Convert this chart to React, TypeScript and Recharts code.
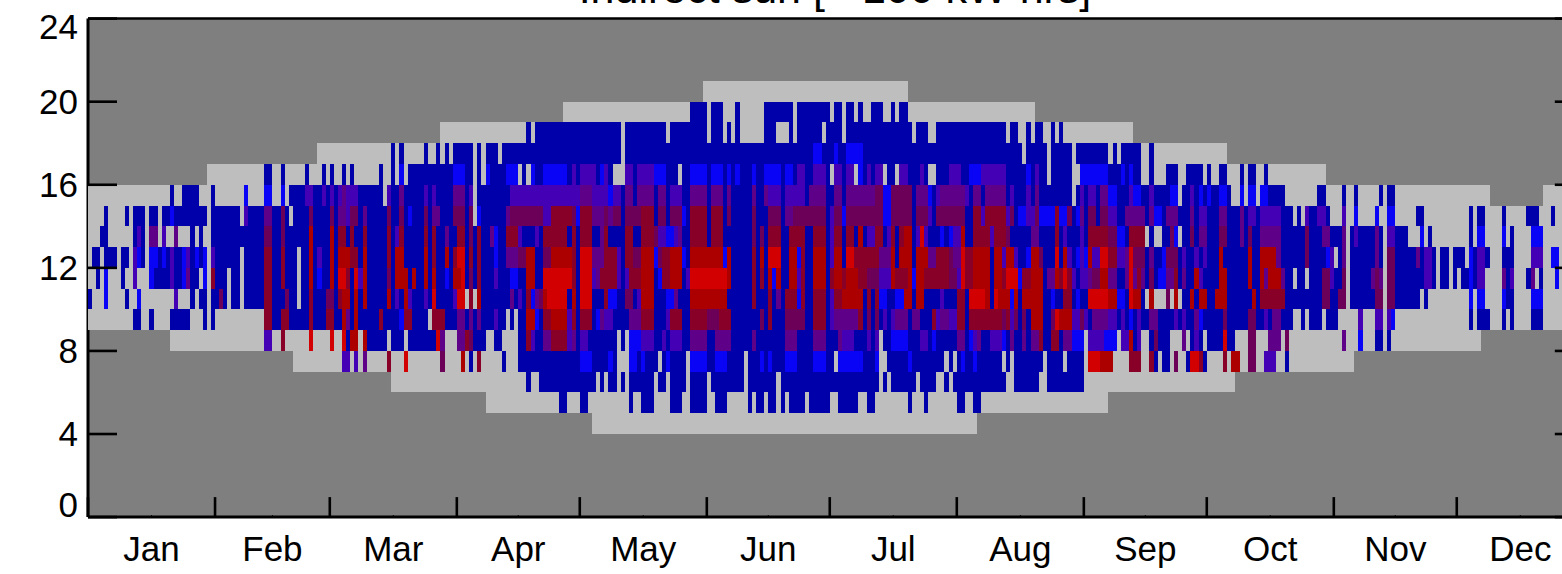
import React from "react";
import { ScatterChart, Scatter, XAxis, YAxis, CartesianGrid } from "recharts";

const TITLE = "Indirect sun [~ 100 kW hrs]";
const MONTHS = ["Jan", "Feb", "Mar", "Apr", "May", "Jun", "Jul", "Aug", "Sep", "Oct", "Nov", "Dec"];
const MONTH_STARTS = [0, 31, 59, 90, 120, 151, 181, 212, 243, 273, 304, 334];
const MONTH_MIDS = [15.5, 45, 74.5, 105, 135.5, 166, 196.5, 227.5, 258, 288.5, 319, 349.5];
const HOUR_TICKS = [0, 4, 8, 12, 16, 20, 24];

// Daylight envelope: [first day, hour]
const sunsetSteps = [[0, 16], [29, 17], [56, 18], [86, 19], [116, 20], [150, 21], [200, 20], [231, 19], [255, 18], [278, 17], [302, 16], [342, 15], [355, 16]];
const sunriseSteps = [[0, 9], [20, 8], [50, 7], [74, 6], [97, 5], [123, 4], [217, 5], [249, 6], [280, 7], [309, 8], [340, 9]];

// Each token: first day + colour code, running to the next token ("." = no colour)
const hour19 = "147B 151. 152B 155. 158B 159. 165B 172. 173B 181. 182B 184. 185B 187. 188B 189. 191B 194. 196B 197. 198B 200.";
const hour18 = "107B 108. 109B 130. 131B 141. 142B 151. 152B 155. 156B 157. 158B 159. 165B 168. 171B 172. 173B 179. 180B 184. 185B 201. 202B 205. 207B 224. 225B 227. 229B 230. 231B 233. 235B 236. 237B 238.";
const hour17 = "74B 75. 76B 77. 82B 83. 85B 86. 87B 88. 89B 94. 95B 96. 97B 100. 101B 130. 131B 177L 179B 182L 183B 185L 189B 228. 229B 234. 235B 240. 241B 249. 250B 251. 252B 257. 259B 260.";
const hour16 = "43B 45. 47B 48. 53B 54. 57B 58. 59B 60. 62B 63. 64B 65. 71B 72. 74B 75. 76L 77. 78B 89L 92B 94. 95B 96. 97L 98B 102L 105. 106B 107. 108L 109B 111L 117B 118P 119B 120P 124B 125L 126P 127B 128. 131P 133B 134P 138L 141B 144. 145B 147L 151B 152L 155B 156L 157B 158L 159B 162L 163B 165L 169B 170L 172B 173P 175B 177P 180B 181. 182P 184B 185P 187. 188L 189B 190P 191B 192P 194. 195B 197. 198P 200B 203P 204B 205. 207B 210P 213B 215L 218P 224B 229L 230B 231P 232B 234. 235B 240. 242L 249B 252L 253B 254L 255B 257. 259B 260. 263B 266. 268B 272. 273B 274. 276B 278. 281B 282. 283B 285. 287B 288.";
const hour15 = "20B 21. 23B 27. 30B 31. 38L 39. 43L 45. 47L 48. 49B 53P 55B 57P 58B 59P 60B 61P 62V 63P 66B 72. 73P 74B 76V 77B 82P 83B 84P 85B 89V 92B 93P 94. 95B 103P 120V 123P 127L 128P 130B 131V 133B 134V 138B 139V 141B 142P 145B 147V 151B 152V 155B 156V 157B 162V 163B 165V 166P 169B 170P 175B 176V 180B 182V 184B 185V 192W 194L 196W 201B 202V 205L 206B 207P 208V 214P 215B 216V 218B 219V 224B 225P 226B 229P 230B 231V 232B 240. 241B 242P 243B 244P 246B 247V 249L 251B 254P 255L 257B 259P 260B 264L 266. 267B 269P 270B 271L 272B 273L 274B 276L 278B 279. 281L 282. 283L 285. 286L 288B 292. 300B 302. 306B 307. 309B 310. 315B 316. 317B 319.";
const hour14 = "4B 5. 9B 10. 11B 14. 15B 17. 18B 20L 21B 29. 30B 37. 38P 39B 43V 45B 47W 48B 49. 50B 54W 55B 59W 60B 61V 63P 64W 66B 67V 68B 73W 74B 76W 77B 78L 79B 82W 83B 84V 86B 89W 92B 93W 94. 95L 96B 102V 103W 111P 113D 118W 119L 120D 123V 126W 127V 128W 130B 131W 135D 138B 139W 141B 142W 145L 146B 147D 151B 152D 155B 156W 157B 162W 163B 166W 169B 170V 172W 180B 181P 182W 184L 185W 194L 196W 201B 202W 205P 206B 207W 214B 216D 218P 219D 224P 225W 226B 227L 229P 231W 232L 236D 237L 239W 240B 241L 242V 243B 244W 246B 247W 249P 251B 253V 258B 259V 260L 262B 263V 266B 269V 270B 271P 273B 276V 278B 281V 282B 283P 285B 286P 291B 294. 295B 296. 297P 298B 300P 302B 303. 306P 307. 309L 310. 314L 315. 317L 319. 324B 326. 337B 338. 339B 341. 345B 346. 351B 354. 357B 358.";
const hour13 = "3B 5. 11B 12P 13B 14. 15V 17. 18P 19. 21V 22. 25B 26. 27B 28. 30B 43W 45B 47W 48B 54R 55B 59R 60B 61D 63B 64D 65B 67D 68B 73D 74B 75P 76D 77B 82D 83B 84D 85B 87V 88B 90D 92B 93W 94B 95D 96B 98V 99L 100B 102D 105P 106B 109P 110B 111D 117B 118D 119B 120D 123B 125V 126D 127B 131D 133B 135D 138W 139P 141L 143P 144V 145B 147D 151B 152D 155B 162W 163B 164W 165B 166D 169B 171D 175B 177D 180B 181P 182D 184B 185D 187B 188R 189B 190P 192D 194B 195P 196D 197B 198D 199R 201B 202P 203H 204P 205B 208L 209B 210L 211P 213R 214B 216D 220P 221D 224W 225B 230V 232B 236D 237B 238P 239B 242P 243B 244D 249W 251L 253B 254D 258. 259B 260. 262B 264W 265L 266. 267B 269W 270B 271V 273B 276W 278B 281V 282B 283W 284B 286V 291B 297W 298B 301V 303B 306V 307. 308B 309P 310B 314V 315B 316. 317P 319B 322. 325L 326. 327B 328. 337B 338. 339L 341. 345L 346. 347B 348. 352L 355.";
const hour12 = "1B 3. 4B 7. 8B 10. 11P 12L 13B 14. 15L 17B 18L 19B 20P 21B 23L 24P 25B 26L 27B 28L 29. 30P 31B 37. 38B 43D 45B 47D 48B 51. 52B 54R 55B 56P 57B 59R 60B 61R 64D 66B 67R 68B 73D 74B 75R 77B 82R 83B 84D 85B 87R 88B 89D 90H 92B 93D 94B 95D 96B 99L 100B 102V 105W 107R 109B 111W 113R 118D 119B 120H 123V 126D 129P 130B 131D 133W 135R 138L 139W 140D 142R 145L 146B 147R 155L 156R 157B 162D 163B 164R 165B 166H 169B 171R 173L 174D 175B 177R 180B 181P 182R 184B 185H 187D 193V 196R 197B 198R 201B 202R 205V 207D 210W 211V 213H 214D 216R 220B 221R 223P 224R 226P 227B 229L 230R 232W 233B 236H 237B 238R 239P 240B 241L 242P 243L 244R 245P 247H 249D 251P 253V 254H 255W 258B 259V 260B 262L 263W 266B 267P 268B 270P 271B 272P 273B 276R 277B 283R 284B 286R 290V 291B 297W 298B 302L 303P 304. 305B 306V 307. 308B 314V 315B 316. 317W 319B 324V 325B 326P 328B 329. 330B 332. 333B 336. 337L 338B 339P 341B 342. 345B 348. 352P 355. 357L 359.";
const hour11 = "2B 3. 4L 5. 8B 9. 11P 12. 15L 16B 20P 21B 23L 24V 25B 27. 28L 29. 30D 31B 34. 35B 37. 38B 43D 45B 47D 48B 51. 52B 54R 55B 56L 57B 59R 60B 61H 63D 64B 65H 66P 67R 68B 73W 74B 75R 78B 79R 80B 82R 83B 84R 85B 87L 88B 89R 91H 92B 93W 94B 95D 96B 99P 100B 103L 105B 107R 109B 111H 118D 119B 120H 123P 124V 125D 129P 130B 131P 132D 135R 138B 139L 140D 142R 145B 146P 147H 156R 157B 162D 163B 164D 165B 166R 167L 168R 169B 171R 173P 174D 175B 177R 180B 181D 182R 184D 185R 188D 190W 193P 196R 197D 200R 201L 202R 204D 210W 212P 213H 214D 216R 220B 221R 223D 224H 227L 228D 230R 233B 234V 236R 237D 238H 239D 240P 241B 242P 244V 245W 247R 249V 251B 253V 254H 255V 256D 257V 258B 259W 260B 261L 263V 265D 266B 267V 268B 270R 271P 272B 276R 278B 283R 284B 286R 287V 288R 291V 292B 294. 295B 297. 298B 301W 303P 304B 306W 307. 308B 313V 314W 315V 316. 317W 319B 326P 328B 329. 330B 332. 333B 334. 335B 337L 338B 339P 341. 345V 346B 347P 348. 351B 352V 353. 354B 355. 358L 359.";
const hour10 = "0B 1. 4L 5. 9B 10. 12L 13. 21P 22. 25B 26. 27B 29. 30B 32W 33B 34. 35B 37. 38B 43D 45B 48W 49B 51. 52B 54D 55B 58W 60B 61D 62R 64B 65R 66B 67R 68B 73R 74B 75P 76B 77R 78P 79B 82P 83B 84H 85B 89P 90H 92. 93D 94. 95R 96B 103V 104B 105P 106B 107D 108L 109V 110W 111R 112H 117B 118R 119B 120H 123B 126D 127L 129B 131W 133B 134P 135R 138B 141L 143V 144B 147R 156B 162D 163B 166D 167B 168V 169B 170D 173L 174D 175B 177D 180B 181P 182D 184R 189B 190D 191B 192D 193L 195B 197L 199R 201B 202R 204B 208P 209B 212D 214B 215H 219R 220B 221H 222R 225L 226R 227B 228R 233B 235L 236B 238D 240B 241L 242B 244H 249R 251L 253B 254H 255R 257B 258. 259R 260. 263W 264. 265R 266. 267B 269R 270B 271R 273B 275R 278B 284R 285B 286D 292B 301W 303B 305W 307. 308B 314W 316. 317W 319B 325. 326B 327. 337L 338. 339L 341. 345L 346B 348. 352L 355.";
const hour9 = "11B 13. 15B 16. 20B 25. 28B 29. 30B 31. 43D 45B 47D 49B 54D 55B 58D 60B 62R 63V 64B 65R 66B 71D 72B 76L 77D 79B 83. 84D 87B 90V 92B 93V 94B 95V 96B 99P 100B 102. 103B 104. 105B 107R 109L 110B 111D 113R 117P 118D 119B 120D 123B 124L 125V 126P 128B 132V 135D 138B 141P 142D 145B 147D 151W 154D 157B 164W 165B 166D 167B 170W 175B 177D 180B 181P 182V 188D 189B 190W 191B 192W 193B 194P 195B 196P 197V 200B 201V 203B 206D 207P 208V 210P 212D 214B 215D 223W 224D 225P 226W 227B 228W 229B 230R 233B 235W 236H 237R 240P 242W 243P 244B 245V 249P 251B 252P 253B 254L 255B 256P 257B 259V 261B 265P 266B 267P 268B 270V 271L 272B 277W 278B 283W 285B 287P 288B 289V 291B 294. 296B 297. 298B 301. 302B 305. 310P 311. 314P 316. 317P 318L 319. 337B 338. 339B 342. 345B 346. 347B 348. 352B 355.";
const hour8 = "43P 45. 47D 48. 54H 55. 59H 60. 62H 63B 64R 66. 67R 68B 73. 74B 77. 78B 85H 86V 87. 90V 92D 93W 94B 97. 99B 101. 105B 107D 108P 109B 111V 113D 117P 118V 119B 120P 122B 129. 130B 131. 132L 135P 138B 140P 141B 142P 145B 147V 151B 153V 157B 162V 163B 170V 173B 177V 180B 183V 184P 187B 190P 191B 192P 193. 194B 196L 200B 203P 205B 206L 207B 212V 214B 215L 216P 217V 218B 220P 223L 224B 225V 226B 228V 229B 230V 232D 233B 235D 237B 238V 240L 243. 244P 248L 251. 252P 254R 255B 256P 257. 259B 260W 261B 264. 267V 268. 269B 270P 271B 272. 273B 277H 278B 280. 283W 285. 288V 291. 292W 293. 306V 307. 310L 311. 314B 316. 317B 318.";
const hour7 = "62P 64. 65P 66. 67V 68. 73D 74. 77H 78. 86W 87. 91R 92. 93B 94. 95D 96. 101B 102. 105B 120L 123B 127L 128B 129. 132L 134B 135L 136B 139. 140B 141L 142B 146. 147L 151B 153L 156B 160. 161B 164L 165B 166L 167B 170L 173B 177L 180B 182. 183L 189B 192L 193. 195B 200L 201B 209. 210B 211. 212B 213L 214B 216L 217B 223. 224B 225. 226B 233. 234B 238. 239B 243. 244H 247R 250. 254D 257. 259D 260B 261. 262B 264. 265W 266. 268B 269H 271D 272B 273. 277D 278. 279R 281. 283W 285. 287P 290. 292B 293.";
const hour6 = "107B 108. 110B 124. 125B 126. 127B 129. 130B 131. 132B 138. 139B 141. 142B 146. 147B 151. 152B 160. 161B 168. 169B 193. 194B 195. 196B 202. 203B 207. 209B 210. 211B 224. 226B 232. 234B 243.";
const hour5 = "115B 117. 120B 122. 132B 133. 135B 138. 142B 145. 147B 151. 153B 156. 161B 162. 163B 165. 166B 168. 169B 170. 171B 175. 176B 181. 183B 188. 190B 192. 200B 201. 204B 205. 212B 214. 216B 218.";

const HOUR_ROWS: [number, string][] = [[5, hour5], [6, hour6], [7, hour7], [8, hour8], [9, hour9], [10, hour10], [11, hour11], [12, hour12], [13, hour13], [14, hour14], [15, hour15], [16, hour16], [17, hour17], [18, hour18], [19, hour19]];

const COLOURS: Record<string, string> = {
  B: "#0000aa", L: "#0a04f6", P: "#4400b4", V: "#5e0088",
  W: "#6c0058", D: "#880028", R: "#ac0000", H: "#d20000",
};

const WIDTH = 1600;
const HEIGHT = 574;
const LEFT = 88;
const RIGHT = 16.2;
const TOP = 18.6;
const BOTTOM = 56.9;
const DAY_PX = (WIDTH - LEFT - RIGHT) / 365;
const HOUR_PX = (HEIGHT - TOP - BOTTOM) / 24;
const FONT = "'Liberation Sans', Arial, sans-serif";
const FS = 35;

type Cell = { day: number; hour: number; span: number; rows: number };

function cellsFor(code: string): Cell[] {
  const out: Cell[] = [];
  for (const [hour, row] of HOUR_ROWS) {
    const tokens = row.trim().split(/\s+/);
    for (let i = 0; i < tokens.length - 1; i++) {
      const c = tokens[i].slice(-1);
      if (c !== code) continue;
      const day = parseInt(tokens[i], 10);
      out.push({ day, hour, span: parseInt(tokens[i + 1], 10) - day, rows: 1 });
    }
  }
  return out;
}

function daylightCells(): Cell[] {
  const edges = Array.from(new Set([...sunsetSteps, ...sunriseSteps].map((s) => s[0]))).sort((a, b) => a - b);
  const at = (steps: number[][], d: number) => steps.filter((s) => s[0] <= d).slice(-1)[0][1];
  return edges.map((d, i) => {
    const low = at(sunriseSteps, d);
    const high = at(sunsetSteps, d);
    const next = i + 1 < edges.length ? edges[i + 1] : 365;
    return { day: d, hour: low, span: next - d, rows: high - low };
  });
}

const CellShape = (fill: string) => (props: any) => {
  const { cx, cy, payload } = props;
  if (cx == null || cy == null) return <g />;
  return (
    <rect
      x={cx}
      y={cy - payload.rows * HOUR_PX}
      width={payload.span * DAY_PX}
      height={payload.rows * HOUR_PX}
      fill={fill}
      shapeRendering="crispEdges"
    />
  );
};

const BottomTick = (props: any) => {
  const { x, y, payload } = props;
  const idx = MONTH_MIDS.indexOf(payload.value);
  if (idx >= 0) {
    return (
      <g>
        <line x1={x} x2={x} y1={y} y2={y - 2} stroke="#000" strokeWidth={1} />
        <text x={x} y={y + 44} textAnchor="middle" fontFamily={FONT} fontSize={FS} fill="#000">
          {MONTHS[idx]}
        </text>
      </g>
    );
  }
  return <line x1={x} x2={x} y1={y} y2={y - 20} stroke="#000" strokeWidth={2.6} />;
};

const TopTick = (props: any) => {
  const { x, y, payload } = props;
  const len = MONTH_MIDS.includes(payload.value) ? 2 : 20;
  return <line x1={x} x2={x} y1={y} y2={y + len} stroke="#000" strokeWidth={len === 2 ? 1 : 2.6} />;
};

const LeftTick = (props: any) => {
  const { x, y, payload } = props;
  const v = payload.value;
  const off = v === 24 ? 20.7 : v === 0 ? 0 : 12;
  return (
    <g>
      <line x1={x} x2={x + 29} y1={y} y2={y} stroke="#000" strokeWidth={2.6} />
      <text x={x - 10} y={y + off} textAnchor="end" fontFamily={FONT} fontSize={FS} fill="#000">
        {v}
      </text>
    </g>
  );
};

const RightTick = (props: any) => {
  const { x, y } = props;
  return <line x1={x} x2={x - 29} y1={y} y2={y} stroke="#000" strokeWidth={2.6} />;
};

export default function App() {
  const allXTicks = [...MONTH_STARTS, ...MONTH_MIDS];
  return (
    <div style={{ position: "absolute", left: 0, top: 0, width: 1562, height: HEIGHT, overflow: "hidden", background: "#fff" }}>
      <ScatterChart width={WIDTH} height={HEIGHT} margin={{ top: 0, right: 0, bottom: 0, left: 0 }}>
        <CartesianGrid horizontal={false} vertical={false} fill="#7f7f7f" fillOpacity={1} stroke="none" />
        <XAxis
          type="number" dataKey="day" domain={[0, 365]} ticks={allXTicks} interval={0} height={BOTTOM}
          tick={BottomTick} tickLine={false} tickSize={0} tickMargin={0}
          axisLine={{ stroke: "#000", strokeWidth: 3 }} allowDataOverflow
        />
        <XAxis
          xAxisId="top" orientation="top" type="number" domain={[0, 365]} ticks={allXTicks} interval={0} height={TOP}
          tick={TopTick} tickLine={false} tickSize={0} tickMargin={0}
          axisLine={{ stroke: "#000", strokeWidth: 2.5 }} allowDataOverflow
        />
        <YAxis
          type="number" dataKey="hour" domain={[0, 24]} ticks={HOUR_TICKS} interval={0} width={LEFT}
          tick={LeftTick} tickLine={false} tickSize={0} tickMargin={0}
          axisLine={{ stroke: "#000", strokeWidth: 3 }} allowDataOverflow
        />
        <YAxis
          yAxisId="right" orientation="right" type="number" domain={[0, 24]} ticks={HOUR_TICKS} interval={0} width={RIGHT}
          tick={RightTick} tickLine={false} tickSize={0} tickMargin={0}
          axisLine={{ stroke: "#000", strokeWidth: 3 }} allowDataOverflow
        />
        <Scatter name="daylight" data={daylightCells()} shape={CellShape("#bebebe")} isAnimationActive={false} />
        {Object.keys(COLOURS).map((code) => (
          <Scatter key={code} name={code} data={cellsFor(code)} shape={CellShape(COLOURS[code])} isAnimationActive={false} />
        ))}
        <text x={835} y={3} textAnchor="middle" fontFamily={FONT} fontSize={43} fill="#000">
          {TITLE}
        </text>
      </ScatterChart>
    </div>
  );
}
